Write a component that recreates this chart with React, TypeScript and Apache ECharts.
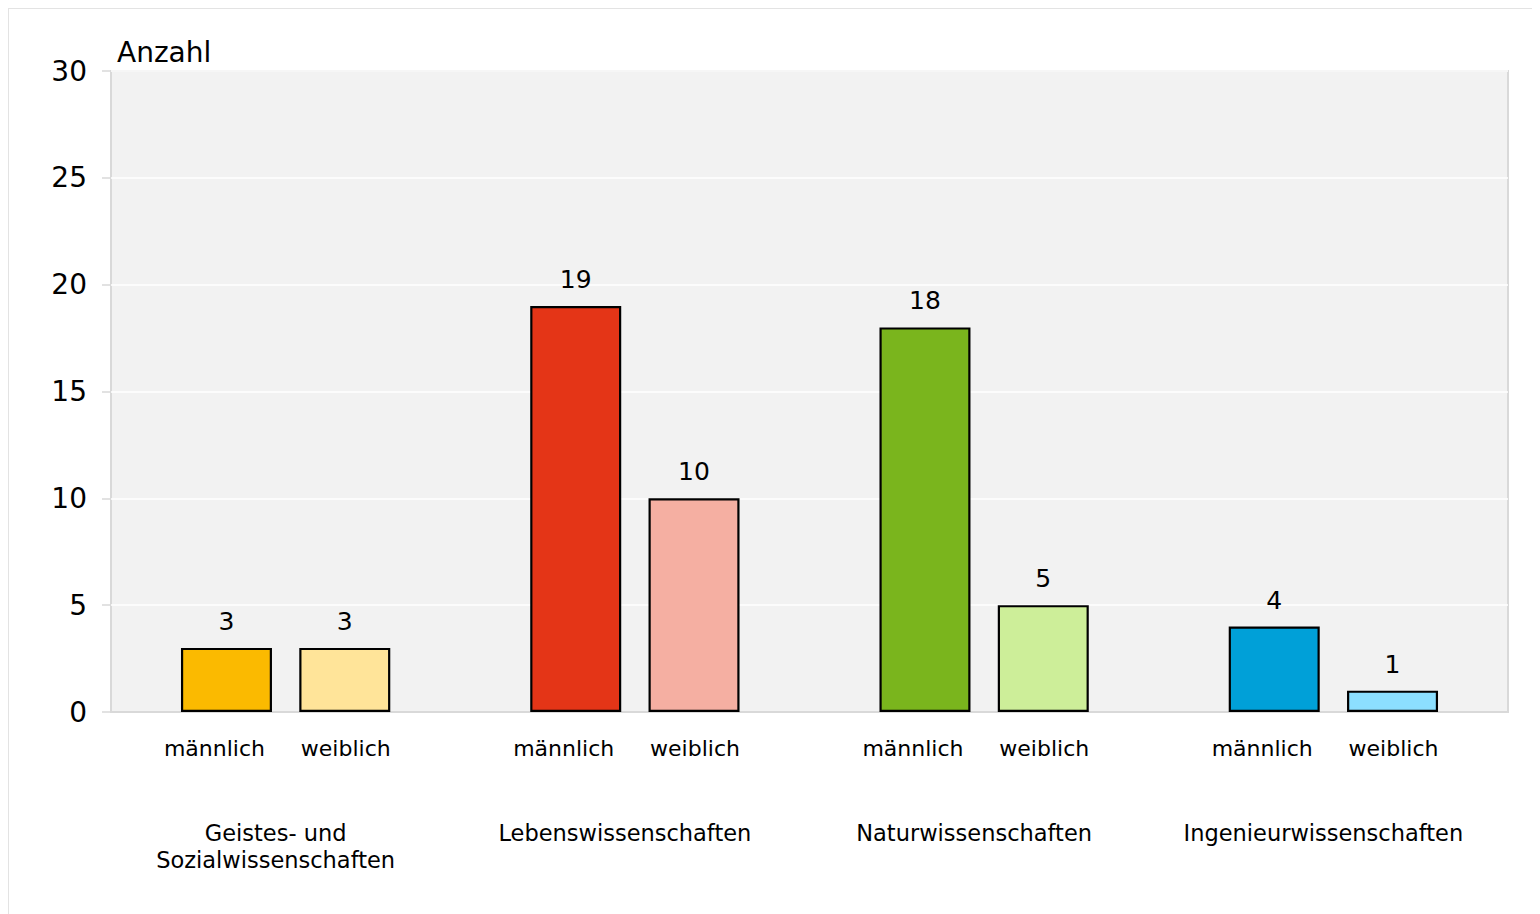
import React, { useEffect, useRef } from "react";
import * as echarts from "echarts";

const categories = [
  "Geistes- und\nSozialwissenschaften",
  "Lebenswissenschaften",
  "Naturwissenschaften",
  "Ingenieurwissenschaften",
];
const genderLabels = ["männlich", "weiblich"];
const maleValues = [3, 19, 18, 4];
const femaleValues = [3, 10, 5, 1];
const maleColors = ["#FBBA00", "#E43517", "#7AB51D", "#00A0D8"];
const femaleColors = ["#FFE499", "#F5AFA2", "#CDEE99", "#8CDFFF"];
const yMin = 0;
const yMax = 30;
const yInterval = 5;
const yName = "Anzahl";

const FONT = "DejaVu Sans, Verdana, sans-serif";
const TEXT = "#000000";

export default function App() {
  const ref = useRef<HTMLDivElement>(null);

  useEffect(() => {
    document.body.style.overflow = "hidden";
    if (!ref.current) return;
    const chart = echarts.init(ref.current, undefined, { renderer: "svg" });

    const barW = 91;
    const labelSeries = (stack: string, text: string, offsetX: number) => ({
      type: "bar",
      stack,
      barWidth: barW,
      data: categories.map(() => 0),
      itemStyle: { color: "transparent", borderWidth: 0 },
      silent: true,
      label: {
        show: true,
        position: "bottom",
        distance: 24,
        offset: [offsetX, 0],
        formatter: text,
        fontFamily: FONT,
        fontSize: 22,
        lineHeight: 24,
        color: TEXT,
      },
    });
    const valueSeries = (stack: string, name: string, values: number[], colors: string[]) => ({
      type: "bar",
      name,
      stack,
      barWidth: barW,
      barGap: "30%",
      data: values.map((v, i) => ({ value: v, itemStyle: { color: colors[i] } })),
      itemStyle: { borderColor: "#000", borderWidth: 2.2 },
      label: {
        show: true,
        position: "top",
        distance: 14,
        fontFamily: FONT,
        fontSize: 25,
        color: TEXT,
      },
    });

    chart.setOption({
      animation: false,
      backgroundColor: "#ffffff",
      grid: {
        left: 102,
        top: 62,
        width: 1397,
        height: 641,
        show: true,
        backgroundColor: "#f2f2f2",
        borderColor: "#d9d9d9",
        borderWidth: 2,
        containLabel: false,
      },
      xAxis: {
        type: "category",
        data: categories,
        axisLine: { show: true, lineStyle: { color: "#d9d9d9", width: 2 } },
        axisTick: { show: false },
        axisLabel: {
          interval: 0,
          hideOverlap: false,
          margin: 107,
          fontFamily: FONT,
          fontSize: 22.5,
          lineHeight: 27,
          color: TEXT,
          padding: [0, 20, 0, 0],
        },
      },
      yAxis: {
        type: "value",
        min: yMin,
        max: yMax,
        interval: yInterval,
        name: yName,
        nameLocation: "end",
        nameGap: 19,
        nameTextStyle: {
          fontFamily: FONT,
          fontSize: 28,
          color: TEXT,
          align: "left",
          verticalAlign: "middle",
          padding: [0, 0, 0, 6],
        },
        axisLine: { show: false },
        axisTick: { show: true, length: 9, lineStyle: { color: "#d9d9d9", width: 1.5 } },
        splitLine: { show: true, lineStyle: { color: "#ffffff", width: 1.5 } },
        axisLabel: {
          margin: 24,
          fontFamily: FONT,
          fontSize: 28,
          color: TEXT,
        },
      },
      series: [
        labelSeries("m", genderLabels[0], -12),
        valueSeries("m", genderLabels[0], maleValues, maleColors),
        labelSeries("w", genderLabels[1], 1),
        valueSeries("w", genderLabels[1], femaleValues, femaleColors),
      ],
    });

    return () => chart.dispose();
  }, []);

  return (
    <div style={{ border: "1px solid #e3e3e3", width: 1560, height: 930, boxSizing: "border-box" }}>
      <div ref={ref} style={{ width: 1540, height: 910 }} />
    </div>
  );
}
